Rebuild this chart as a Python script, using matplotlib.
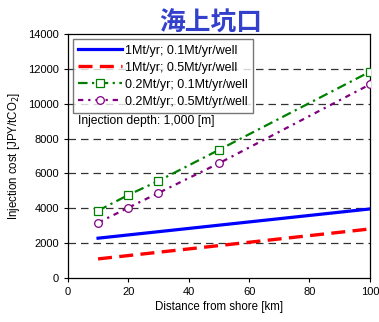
import matplotlib
matplotlib.use("Agg")
import matplotlib.pyplot as plt

plt.rcParams['font.family'] = ['Liberation Sans', 'Noto Sans CJK JP', 'DejaVu Sans']

x_blue = [10, 100]
y_blue = [2280, 3960]
x_red = [10, 100]
y_red = [1090, 2810]
x_green = [10, 20, 30, 50, 100]
y_green = [3860, 4760, 5570, 7350, 11840]
x_purple = [10, 20, 30, 50, 100]
y_purple = [3170, 4030, 4880, 6580, 11110]

labels = ["1Mt/yr; 0.1Mt/yr/well", "1Mt/yr; 0.5Mt/yr/well",
          "0.2Mt/yr; 0.1Mt/yr/well", "0.2Mt/yr; 0.5Mt/yr/well"]
title = "海上坑口"
xlabel = "Distance from shore [km]"
ylabel = "Injection cost [JPY/tCO$_2$]"
note = "Injection depth: 1,000 [m]"

fig = plt.figure(figsize=(3.79, 3.22), dpi=100)
ax = fig.add_axes([0.179, 0.137, 0.797, 0.757])

for yv in range(2000, 14000, 2000):
    ax.axhline(yv, color='#333333', lw=0.9, ls=(0, (6, 4)), zorder=1)

ax.plot(x_blue, y_blue, color='#0000FF', lw=2.3, label=labels[0], zorder=3)
ax.plot(x_red, y_red, color='#FF0000', lw=2.4, ls=(0, (4.2, 2.2)), label=labels[1], zorder=3)
ax.plot(x_green, y_green, color='#008000', lw=1.6, ls=(0, (4.3, 2, 1, 2)), marker='s',
        ms=5.5, mfc='white', mec='#008000', mew=0.9, label=labels[2], zorder=3)
ax.plot(x_purple, y_purple, color='#800080', lw=1.6, ls=(0, (2.4, 2.2, 1, 2.2)), marker='o',
        ms=5.5, mfc='white', mec='#800080', mew=0.9, label=labels[3], zorder=3)

ax.set_xlim(0, 100)
ax.set_ylim(0, 14000)
ax.set_xticks(range(0, 101, 20))
ax.set_yticks(range(0, 14001, 2000))
ax.tick_params(labelsize=8, direction='out', length=3, width=0.8)
for s in ax.spines.values():
    s.set_color('black')
    s.set_linewidth(0.9)

ax.set_xlabel(xlabel, fontsize=8.3, labelpad=3)
ax.set_ylabel(ylabel, fontsize=8.3, labelpad=4)
ax.text(3.3, 9000, note, fontsize=8.7, va='center', ha='left')

leg = ax.legend(loc='upper left', fontsize=9, frameon=True, fancybox=False,
                borderaxespad=0.4, handlelength=3.5, handletextpad=0.2,
                labelspacing=0.4, borderpad=0.45)
leg.get_frame().set_edgecolor('#555555')
leg.get_frame().set_linewidth(1.0)

fig.text(0.555, 0.928, title, fontsize=18.5, fontweight='bold', color='#3340CC',
         ha='center', va='center', family=['Noto Sans CJK JP'])

fig.savefig('out.png', dpi=100)
